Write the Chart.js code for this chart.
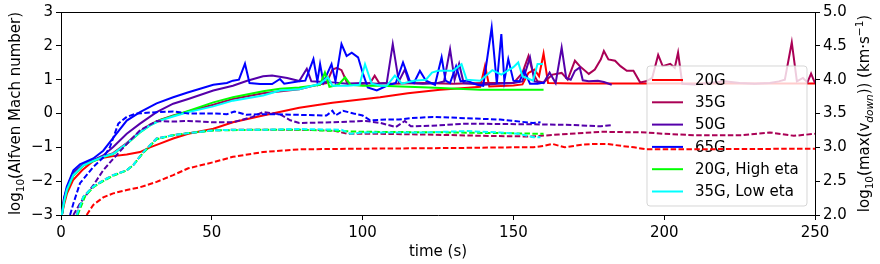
<!DOCTYPE html>
<html>
<head>
<meta charset="utf-8">
<script src="https://cdn.jsdelivr.net/npm/chart.js@4.4.1/dist/chart.umd.min.js"></script>
<style>
  html, body { margin: 0; padding: 0; background: #fff; }
  canvas { display: block; }
</style>
</head>
<body>
<canvas id="myChart" width="880" height="264"></canvas>
<script>
// runs (legend order) and their colours
const runLabels = ['20G', '35G', '50G', '65G', '20G, High eta', '35G, Low eta'];
const runColors = ['#ff0000', '#aa0055', '#5500aa', '#0000ff', '#00ff00', '#00ffff'];

// tick labels
const xTicks = [0, 50, 100, 150, 200, 250];
const machTicks = [-3, -2, -1, 0, 1, 2, 3];
const vTicks = [2.0, 2.5, 3.0, 3.5, 4.0, 4.5, 5.0];

// log10(Alfven Mach number), solid lines, left axis
const machTime20 = [0.3, 1, 2, 4, 7, 10.7, 14, 17.3, 21.8, 26.2, 29.5, 32.8, 37.2, 42.2, 50.5, 57, 67, 79, 90, 105.8, 115, 125.7, 135, 139, 140.6, 142, 150, 153, 155, 157, 158.5, 160, 161.5, 170, 180, 190, 200, 210, 220, 230, 240, 250];
const mach20 = [-3, -2.7, -2.36, -1.97, -1.68, -1.4, -1.31, -1.26, -1.21, -1.14, -1.0, -0.89, -0.74, -0.6, -0.45, -0.26, -0.06, 0.17, 0.32, 0.48, 0.6, 0.7, 0.76, 0.79, 1.41, 0.8, 0.83, 0.86, 1.2, 1.3, 1.1, 1.77, 0.9, 0.89, 0.89, 0.89, 0.89, 0.89, 0.89, 0.89, 0.89, 0.89];

const machTime35 = [0.3, 1, 2, 4.1, 7.4, 10.7, 14, 17.3, 21.8, 26.2, 29.5, 32.8, 37.2, 42.2, 50.5, 57, 67, 79, 85, 88, 90, 91.5, 93, 95, 100, 102.5, 104, 105.5, 110, 120, 130, 140, 150, 153, 155, 156.5, 158, 160, 163, 166, 168, 170.4, 172, 175, 177, 179, 180, 181.5, 183.7, 185.5, 187.6, 189.8, 192, 194, 196, 198, 199.5, 202, 203.5, 204.6, 206, 210, 215, 220, 225, 230, 235, 238, 240, 242.3, 244, 246, 247.5, 248.7, 250];
const mach35 = [-3, -2.6, -2.25, -1.8, -1.52, -1.39, -1.27, -1.17, -0.87, -0.53, -0.33, -0.19, -0.06, 0.06, 0.26, 0.43, 0.6, 0.72, 0.85, 0.9, 1.3, 1.35, 1.28, 0.88, 0.88, 0.9, 1.12, 0.9, 0.88, 0.9, 0.88, 0.9, 0.9, 1.2, 1.7, 1.2, 0.95, 0.92, 1.15, 1.2, 1.0, 1.56, 1.4, 1.17, 1.3, 1.6, 1.85, 1.6, 1.56, 1.4, 1.26, 1.26, 0.92, 0.95, 1.05, 1.73, 1.4, 1.47, 1.35, 1.8, 0.88, 0.86, 0.9, 0.95, 0.9, 0.88, 0.9, 0.95, 1.0, 2.1, 0.95, 1.05, 0.92, 1.18, 0.9];

const machTime50 = [0.3, 1, 2, 4, 7.4, 10.7, 14, 17.3, 21.8, 26.2, 31.7, 37.2, 42.2, 50.5, 57, 61.5, 67, 70, 75, 79, 81.5, 83, 90, 95, 100, 105, 108, 110, 112, 114, 115.5, 120, 125, 127, 129, 130.5, 132, 133.5, 140, 145, 150, 153, 155.5, 157, 160, 162, 164, 166, 167.5, 169, 170.4, 172, 173, 175, 178, 180, 182.6];
const mach50 = [-3, -2.5, -2.2, -1.75, -1.5, -1.38, -1.24, -0.99, -0.6, -0.3, 0.04, 0.29, 0.43, 0.68, 0.82, 0.96, 1.1, 1.12, 1.05, 0.96, 1.32, 0.95, 0.92, 0.88, 0.9, 0.88, 0.9, 2.05, 0.95, 1.3, 0.9, 0.88, 0.9, 0.95, 1.9, 1.0, 1.47, 0.9, 0.85, 0.88, 0.9, 0.95, 1.66, 0.95, 0.9, 1.21, 0.9, 1.95, 1.05, 1.0, 1.26, 1.36, 0.98, 0.95, 0.97, 0.93, 0.85];

const machTime65 = [0.3, 1, 1.9, 4.1, 6.3, 10.7, 14, 17.3, 21.8, 26.2, 31.7, 37.2, 42, 50.5, 55, 57, 59, 61, 62.5, 66, 70, 72.6, 74, 79, 81, 83.7, 85, 85.9, 87, 89.7, 91, 93, 94.7, 96.4, 98.5, 100, 101.7, 104.7, 108, 111, 113.4, 115.6, 117, 119, 121, 124, 126.2, 127.5, 129, 131, 132.5, 134.5, 138, 140, 142.8, 144.5, 146, 147, 148.3, 150, 152, 153.6, 155.5, 158, 160.5];
const mach65 = [-3, -2.5, -2.17, -1.68, -1.5, -1.33, -1.1, -0.72, -0.21, 0.04, 0.3, 0.48, 0.62, 0.85, 0.9, 0.97, 1.0, 1.47, 0.9, 0.87, 0.87, 1.02, 0.88, 0.95, 0.97, 1.61, 0.95, 1.46, 0.92, 1.46, 0.95, 2.05, 1.7, 1.8, 1.66, 1.21, 0.77, 0.68, 0.82, 0.9, 1.51, 0.97, 0.9, 1.26, 0.97, 0.85, 1.66, 0.97, 0.9, 1.4, 0.95, 0.97, 0.85, 0.82, 2.54, 0.88, 2.35, 0.97, 1.61, 0.97, 0.95, 1.26, 0.88, 0.88, 0.92];

const machTimeHigh = [0.3, 1, 2, 4.1, 7.4, 10.7, 14, 17.3, 21.8, 26.2, 29.5, 32.8, 37.2, 41.7, 50.5, 57, 67, 72.6, 79, 85.9, 87.5, 89, 92, 94.2, 96, 100, 105.8, 122, 139, 150, 160];
const machHigh = [-3, -2.62, -2.27, -1.83, -1.54, -1.41, -1.29, -1.2, -0.9, -0.56, -0.35, -0.2, -0.07, 0.06, 0.33, 0.48, 0.66, 0.73, 0.77, 0.85, 1.21, 0.79, 0.85, 1.07, 0.85, 0.82, 0.82, 0.77, 0.7, 0.7, 0.7];

const machTimeLow = [0.3, 1, 1.9, 4.1, 7.4, 10.7, 14, 17.3, 21.8, 26.2, 29.5, 32.8, 37.2, 42.2, 50.5, 57, 67, 72.6, 79, 85.9, 88.5, 90, 95, 99, 100.8, 103, 106, 108, 110.7, 113, 117, 121, 123, 125, 130, 132.8, 134.5, 139, 143, 146, 150, 151.6, 153, 156.5, 158, 159.8];
const machLow = [-3, -2.62, -2.26, -1.82, -1.53, -1.4, -1.28, -1.19, -0.89, -0.55, -0.35, -0.21, -0.09, 0.04, 0.21, 0.38, 0.53, 0.68, 0.72, 0.88, 1.07, 0.82, 0.82, 0.85, 1.46, 0.88, 0.82, 0.82, 1.12, 0.88, 0.97, 1.0, 1.21, 1.26, 1.26, 1.46, 1.0, 0.97, 1.28, 1.15, 1.37, 1.51, 1.1, 0.97, 1.46, 1.46];

// log10(max(v_down)) in km/s, dashed lines, right axis
const vTime20 = [8.5, 10.7, 14, 17.3, 21.8, 26.2, 31.7, 37.2, 42.2, 50.5, 57, 67, 79, 100, 130, 150, 156.6, 160, 163, 167, 173, 177, 181, 186, 190, 194, 200, 250];
const v20 = [2.0, 2.15, 2.26, 2.32, 2.37, 2.41, 2.49, 2.59, 2.69, 2.78, 2.86, 2.93, 2.97, 2.98, 2.99, 3.0, 3.0, 3.02, 3.05, 3.0, 3.04, 3.05, 3.05, 3.02, 3.0, 2.97, 2.97, 2.98];

const vTime35 = [5.2, 7.4, 10.7, 14, 17.3, 21.8, 24, 27.3, 31.7, 37.2, 42.2, 50.5, 57, 67, 79, 90, 95, 105, 120, 140, 156, 165, 179, 194, 200, 210, 226, 235, 243, 250];
const v35 = [2.0, 2.27, 2.42, 2.51, 2.59, 2.66, 2.74, 2.93, 3.13, 3.18, 3.21, 3.25, 3.26, 3.26, 3.26, 3.25, 3.2, 3.2, 3.19, 3.17, 3.16, 3.19, 3.23, 3.22, 3.2, 3.18, 3.18, 3.22, 3.17, 3.2];

const vTime50 = [4.1, 6.3, 10.7, 14, 17.3, 21.8, 26.2, 31.7, 37.2, 42.2, 50.5, 57, 63.5, 67, 72.5, 76, 79, 90, 101, 106, 111, 114, 116, 123, 134.5, 156.5, 170, 179, 182.7];
const v50 = [2.0, 2.17, 2.44, 2.66, 2.83, 3.05, 3.25, 3.39, 3.38, 3.39, 3.37, 3.37, 3.45, 3.52, 3.49, 3.4, 3.36, 3.37, 3.39, 3.36, 3.3, 3.39, 3.31, 3.32, 3.35, 3.34, 3.33, 3.31, 3.33];

const vTime65 = [3, 4.1, 6.3, 10.7, 14, 16.2, 19, 21.8, 25, 31.7, 37.2, 42.2, 50.5, 55, 57.5, 61.5, 66, 70, 79, 88, 90, 91, 93.5, 97, 100, 102.5, 108, 112, 115.7, 123.4, 134.5, 145.6, 150, 156.5, 159];
const v65 = [2.0, 2.17, 2.47, 2.71, 2.85, 3.0, 3.35, 3.45, 3.5, 3.52, 3.53, 3.5, 3.5, 3.49, 3.53, 3.48, 3.49, 3.49, 3.48, 3.47, 3.54, 3.47, 3.54, 3.5, 3.47, 3.4, 3.41, 3.41, 3.43, 3.45, 3.43, 3.41, 3.39, 3.36, 3.37];

const vTimeHigh = [5.5, 8, 11, 14, 17.3, 21.8, 24, 27.3, 31.7, 37.2, 42.2, 50.5, 67, 79, 100, 130, 160];
const vHigh = [2.0, 2.28, 2.42, 2.5, 2.58, 2.66, 2.74, 2.92, 3.12, 3.18, 3.21, 3.25, 3.26, 3.26, 3.23, 3.22, 3.2];

const vTimeLow = [5.2, 7.4, 10.7, 14, 17.3, 21.8, 24, 27.3, 31.7, 37.2, 42.2, 50.5, 57, 67, 79, 93, 96, 100, 120, 134.5, 145.6, 152, 156.6, 159];
const vLow = [2.0, 2.27, 2.42, 2.51, 2.59, 2.66, 2.74, 2.93, 3.13, 3.18, 3.21, 3.25, 3.26, 3.26, 3.27, 3.26, 3.2, 3.22, 3.22, 3.24, 3.22, 3.2, 3.15, 3.15];

const machRuns = [[machTime20, mach20], [machTime35, mach35], [machTime50, mach50], [machTime65, mach65], [machTimeHigh, machHigh], [machTimeLow, machLow]];
const vRuns = [[vTime20, v20], [vTime35, v35], [vTime50, v50], [vTime65, v65], [vTimeHigh, vHigh], [vTimeLow, vLow]];

const FONT = '"DejaVu Sans", sans-serif';

function pairs(times, values) {
  return times.map((t, i) => ({ x: t, y: values[i] }));
}

const datasets = [];
machRuns.forEach(([t, v], i) => {
  datasets.push({
    label: runLabels[i],
    data: pairs(t, v),
    borderColor: runColors[i],
    borderWidth: 2,
    yAxisID: 'y',
    dashed: false,
  });
});
vRuns.forEach(([t, v], i) => {
  datasets.push({
    label: runLabels[i] + ' v_down',
    data: pairs(t, v),
    borderColor: runColors[i],
    borderWidth: 2,
    borderDash: [5.5, 2.4],
    yAxisID: 'y2',
    dashed: true,
  });
});
// later datasets on top, like matplotlib
datasets.forEach((d, i) => {
  d.order = datasets.length - i;
  d.pointRadius = 0;
  d.fill = false;
  d.tension = 0;
});

function drawRich(ctx, parts, x, y, angle) {
  ctx.save();
  ctx.translate(x, y);
  ctx.rotate(angle);
  let total = 0;
  parts.forEach((p) => {
    ctx.font = (p.italic ? 'italic ' : '') + p.size + 'px ' + FONT;
    p.w = ctx.measureText(p.text).width;
    total += p.w;
  });
  let cx = -total / 2;
  ctx.fillStyle = '#000';
  ctx.textBaseline = 'alphabetic';
  parts.forEach((p) => {
    ctx.font = (p.italic ? 'italic ' : '') + p.size + 'px ' + FONT;
    ctx.fillText(p.text, cx, 5.5 + (p.dy || 0));
    cx += p.w;
  });
  ctx.restore();
}

function drawLegend(ctx) {
  const x = 647, y = 66, w = 160, h = 140, r = 3;
  ctx.save();
  ctx.beginPath();
  ctx.moveTo(x + r, y);
  ctx.arcTo(x + w, y, x + w, y + h, r);
  ctx.arcTo(x + w, y + h, x, y + h, r);
  ctx.arcTo(x, y + h, x, y, r);
  ctx.arcTo(x, y, x + w, y, r);
  ctx.closePath();
  ctx.fillStyle = 'rgba(255,255,255,0.8)';
  ctx.fill();
  ctx.strokeStyle = 'rgba(204,204,204,0.8)';
  ctx.lineWidth = 1;
  ctx.stroke();
  ctx.font = '15px ' + FONT;
  ctx.textBaseline = 'middle';
  runLabels.forEach((lab, i) => {
    const ry = 80 + i * 22.3;
    ctx.strokeStyle = runColors[i];
    ctx.lineWidth = 2;
    ctx.beginPath();
    ctx.moveTo(652, ry);
    ctx.lineTo(683, ry);
    ctx.stroke();
    ctx.fillStyle = '#000';
    ctx.fillText(lab, 695, ry + 1);
  });
  ctx.restore();
}

let legendDone = false;
const decorPlugin = {
  id: 'decor',
  beforeDatasetsDraw() {
    legendDone = false;
  },
  beforeDatasetDraw(chart, args) {
    const ds = chart.data.datasets[args.index];
    if (ds.dashed && !legendDone) {
      drawLegend(chart.ctx);
      legendDone = true;
    }
  },
  afterDraw(chart) {
    const ctx = chart.ctx;
    const a = chart.chartArea;
    // top spine
    ctx.save();
    ctx.strokeStyle = '#000';
    ctx.lineWidth = 1;
    ctx.beginPath();
    ctx.moveTo(a.left, a.top + 0.5);
    ctx.lineTo(a.right, a.top + 0.5);
    ctx.stroke();
    ctx.restore();
    // axis titles
    const midY = (a.top + a.bottom) / 2;
    drawRich(ctx, [
      { text: 'log', size: 15 },
      { text: '10', size: 10.5, dy: 4 },
      { text: '(Alfven Mach number)', size: 15 },
    ], 14, midY, -Math.PI / 2);
    drawRich(ctx, [
      { text: 'log', size: 15 },
      { text: '10', size: 10.5, dy: 4 },
      { text: '(max(v', size: 15 },
      { text: 'down', size: 10.5, dy: 4, italic: true },
      { text: ')) (km\u00b7s', size: 15 },
      { text: '\u22121', size: 10.5, dy: -6 },
      { text: ')', size: 15 },
    ], 863, midY, -Math.PI / 2);
    drawRich(ctx, [{ text: 'time (s)', size: 15 }], (a.left + a.right) / 2, 250, 0);
  },
};

const axisGrid = { drawOnChartArea: false, drawTicks: true, tickLength: 5, color: '#000' };
const axisBorder = { display: true, color: '#000', width: 1 };
const tickFont = { family: FONT, size: 15 };

new Chart(document.getElementById('myChart'), {
  type: 'line',
  data: { datasets: datasets },
  options: {
    responsive: false,
    animation: false,
    devicePixelRatio: 1,
    layout: { padding: { top: 11, left: 0, right: 0, bottom: 0 } },
    plugins: {
      legend: { display: false },
      tooltip: { enabled: false },
    },
    scales: {
      x: {
        type: 'linear',
        min: 0,
        max: 250,
        afterBuildTicks: (s) => { s.ticks = xTicks.map((v) => ({ value: v })); },
        afterFit: (s) => { s.height = 49; },
        ticks: { font: tickFont, color: '#000', padding: 4, maxRotation: 0 },
        grid: axisGrid,
        border: axisBorder,
      },
      y: {
        position: 'left',
        min: -3,
        max: 3,
        afterBuildTicks: (s) => { s.ticks = machTicks.map((v) => ({ value: v })); },
        afterFit: (s) => { s.width = 61; },
        ticks: {
          font: tickFont,
          color: '#000',
          padding: 3,
          callback: (v) => String(v).replace('-', '\u2212'),
        },
        grid: axisGrid,
        border: axisBorder,
      },
      y2: {
        position: 'right',
        min: 2,
        max: 5,
        afterBuildTicks: (s) => { s.ticks = vTicks.map((v) => ({ value: v })); },
        afterFit: (s) => { s.width = 65; },
        ticks: {
          font: tickFont,
          color: '#000',
          padding: 3,
          callback: (v) => v.toFixed(1),
        },
        grid: axisGrid,
        border: axisBorder,
      },
    },
  },
  plugins: [decorPlugin],
});
</script>
</body>
</html>
